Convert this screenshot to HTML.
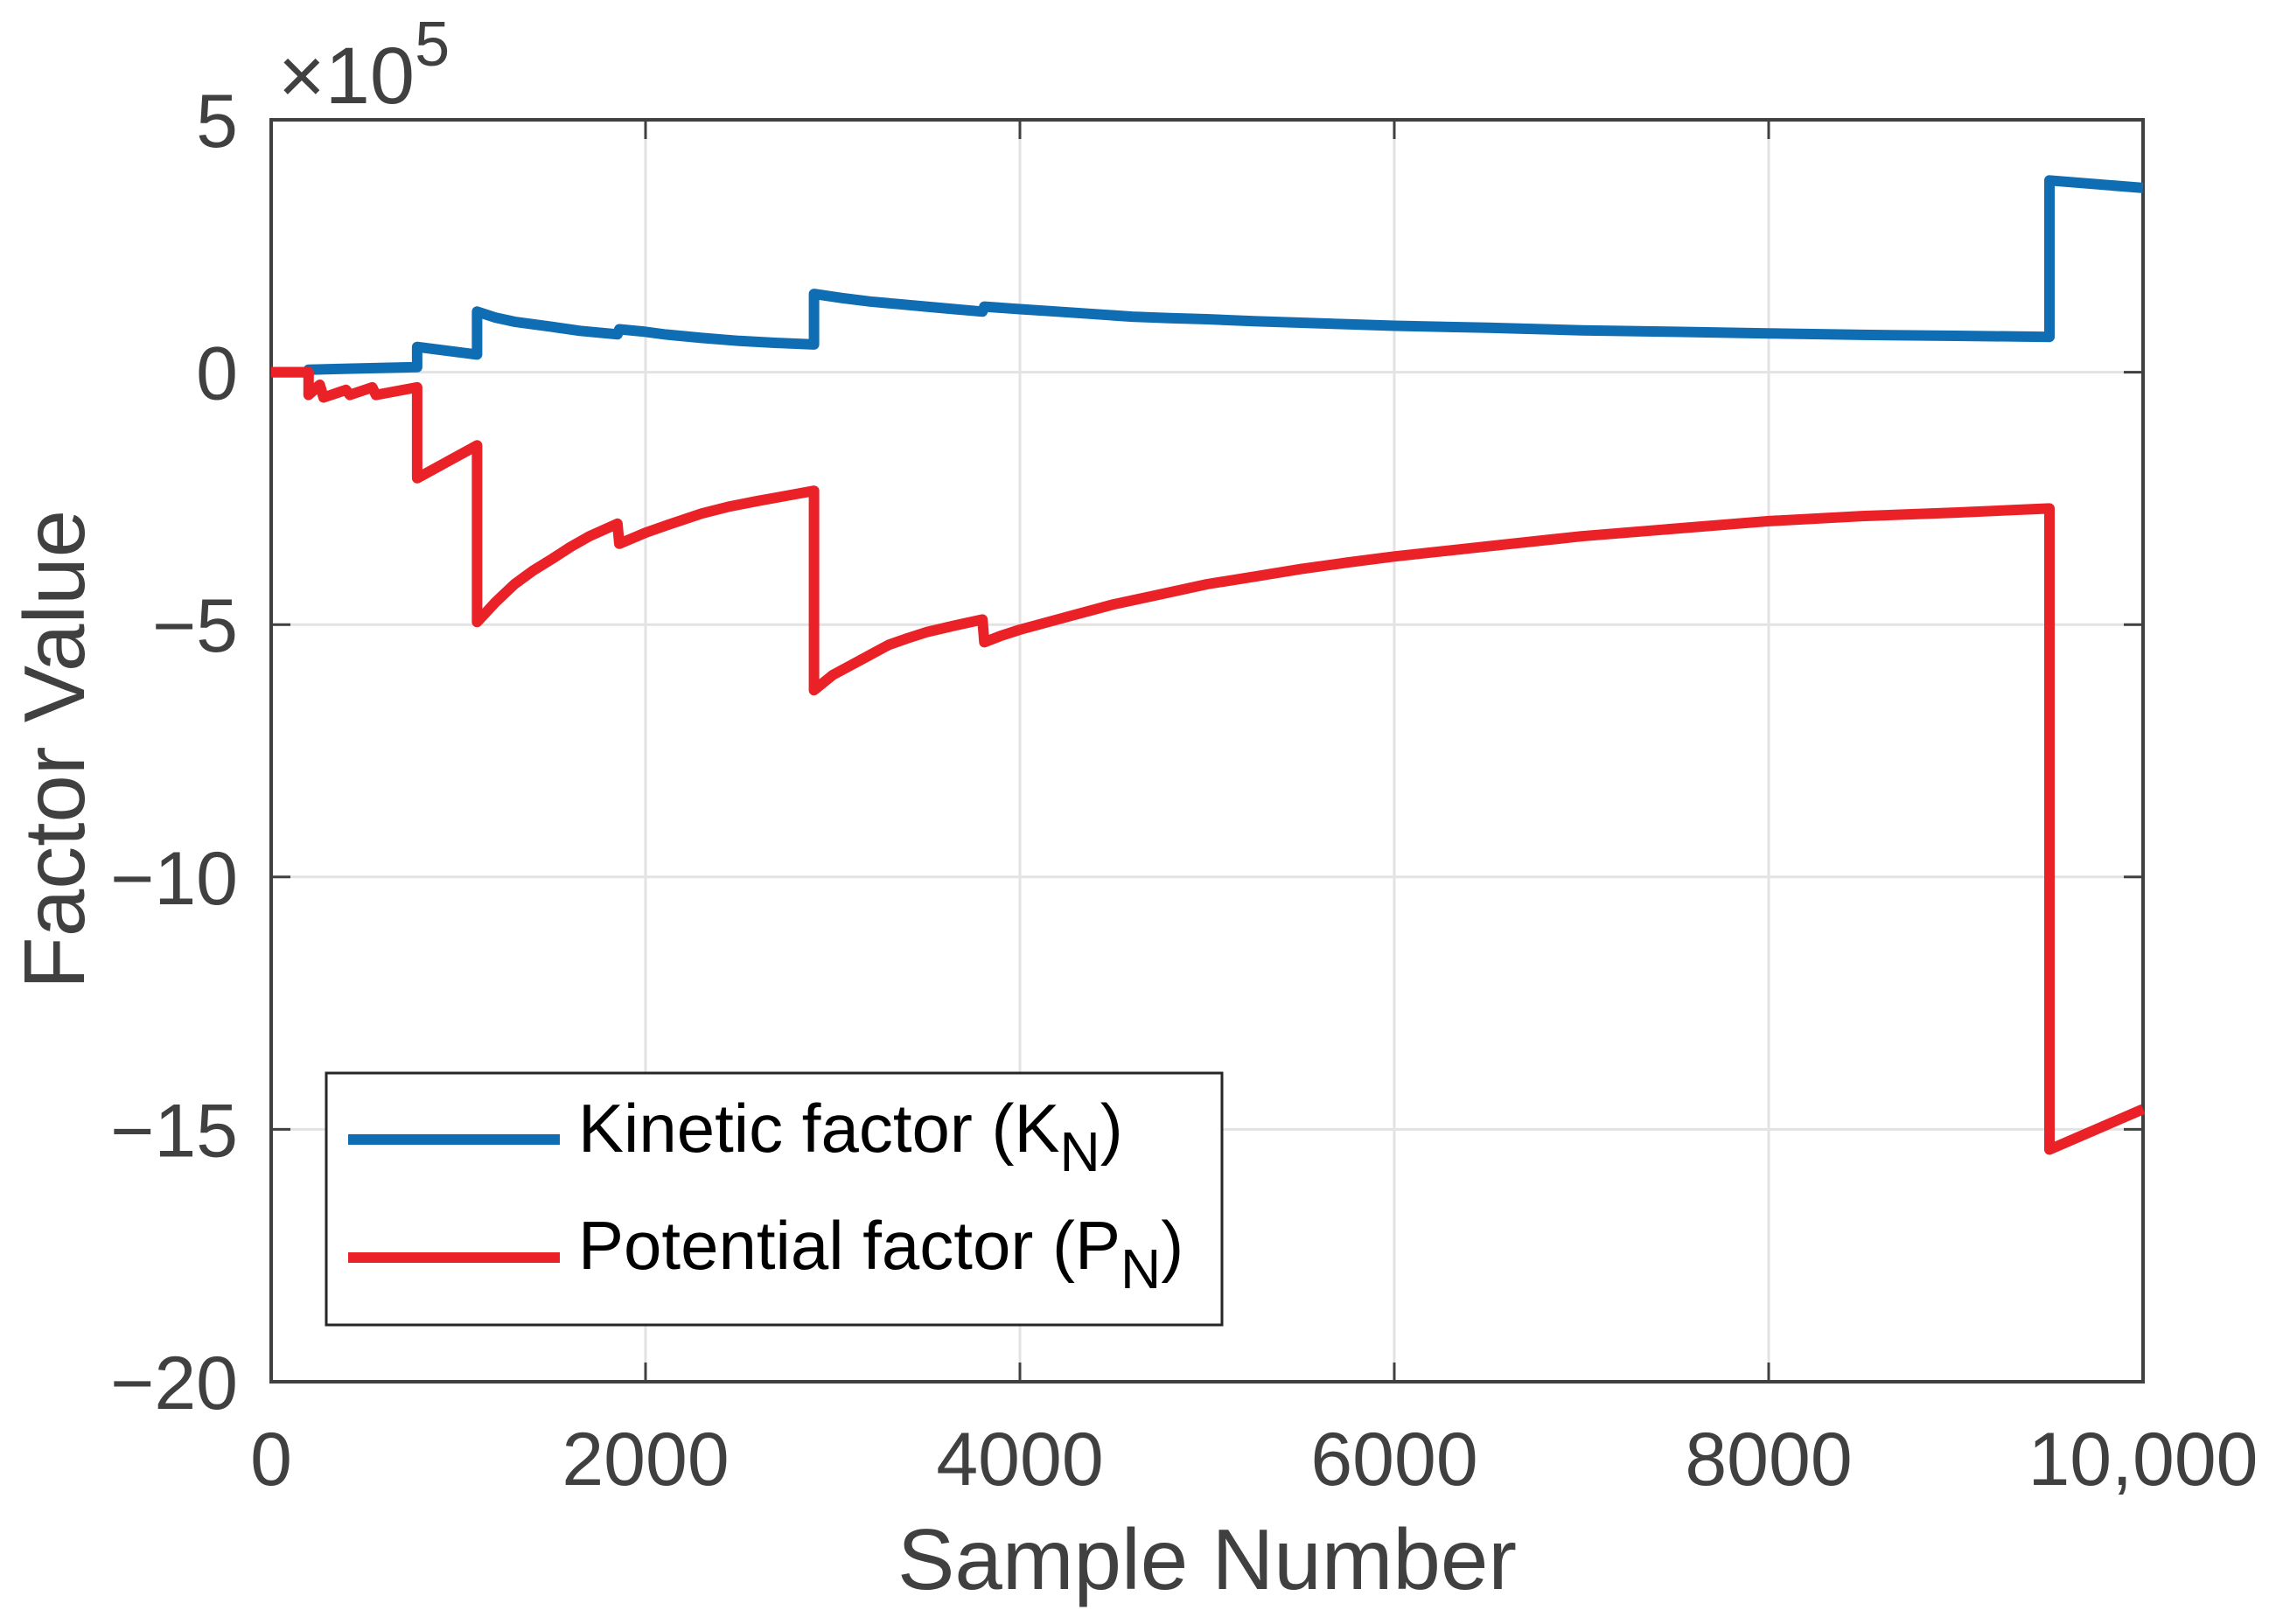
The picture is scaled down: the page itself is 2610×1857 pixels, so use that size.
<!DOCTYPE html>
<html><head><meta charset="utf-8">
<style>
html,body{margin:0;padding:0;background:#fff;}
svg{display:block;font-family:"Liberation Sans",Arial,sans-serif;}
</style></head>
<body>
<svg id="chart" width="2610" height="1857" viewBox="0 0 2610 1857" xmlns="http://www.w3.org/2000/svg">
<g id="grid"></g>
<g id="axes"></g>
<g id="series"></g>
<text x="318" y="118" font-size="92" fill="#404040">×10<tspan font-size="72" dy="-43">5</tspan></text>
<text x="1380" y="1817" font-size="98" fill="#404040" text-anchor="middle">Sample Number</text>
<text transform="translate(96,857) rotate(-90)" font-size="98" fill="#404040" text-anchor="middle">Factor Value</text>
<g>
<rect x="373" y="1227" width="1024" height="288" fill="#fff" stroke="#262626" stroke-width="3"/>
<line x1="398" y1="1303" x2="640" y2="1303" stroke="#0f6db3" stroke-width="12"/>
<text x="661" y="1317" font-size="78" fill="#000">Kinetic factor (K<tspan font-size="64" dy="22">N</tspan><tspan dy="-22">)</tspan></text>
<line x1="398" y1="1438" x2="640" y2="1438" stroke="#ea2127" stroke-width="12"/>
<text x="661" y="1451" font-size="78" fill="#000">Potential factor (P<tspan font-size="64" dy="22">N</tspan><tspan dy="-22">)</tspan></text>
</g>
</svg>
<script>
const xTicks = [0, 2000, 4000, 6000, 8000, 10000];
const xTickLabels = ["0", "2000", "4000", "6000", "8000", "10,000"];
const yTicks = [5, 0, -5, -10, -15, -20];
const yTickLabels = ["5", "0", "\u22125", "\u221210", "\u221215", "\u221220"];
const kineticX = [0,200,200,780,780,1100,1100,1200,1300,1400,1500,1650,1850,1860,2000,2100,2300,2500,2700,2900,2900,3050,3200,3350,3500,3650,3800,3810,4000,4200,4400,4600,4800,5000,5250,5500,5750,6000,6500,7000,7500,8000,8500,9000,9500,9500,10000];
const kineticY = [0,0,0.05,0.1,0.5,0.35,1.2,1.08,1.0,0.95,0.9,0.82,0.75,0.85,0.8,0.75,0.68,0.62,0.58,0.55,1.55,1.47,1.4,1.35,1.3,1.25,1.2,1.3,1.25,1.2,1.15,1.1,1.07,1.05,1.01,0.98,0.95,0.92,0.88,0.83,0.8,0.77,0.74,0.72,0.7,3.8,3.65];
const potentialX = [0,200,200,260,280,400,420,540,560,780,780,1100,1100,1150,1200,1300,1400,1500,1600,1700,1850,1860,2000,2100,2300,2450,2600,2750,2900,2900,2950,3000,3100,3200,3300,3400,3500,3650,3800,3810,3900,4000,4250,4500,4750,5000,5250,5500,5750,6000,6500,7000,7500,8000,8500,9000,9500,9500,10000];
const potentialY = [0,0,-0.45,-0.25,-0.5,-0.35,-0.45,-0.3,-0.45,-0.3,-2.1,-1.45,-4.95,-4.75,-4.55,-4.2,-3.93,-3.7,-3.46,-3.25,-3.0,-3.4,-3.18,-3.05,-2.8,-2.66,-2.55,-2.45,-2.35,-6.3,-6.15,-6.0,-5.8,-5.6,-5.4,-5.27,-5.15,-5.02,-4.9,-5.35,-5.22,-5.1,-4.85,-4.6,-4.4,-4.2,-4.05,-3.9,-3.77,-3.65,-3.45,-3.25,-3.1,-2.95,-2.85,-2.78,-2.7,-15.4,-14.6];

const L=310,R=2450,T=137,B=1580, XMIN=0,XMAX=10000,YMIN=-20,YMAX=5;
const NS="http://www.w3.org/2000/svg";
function sx(v){return L+(v-XMIN)/(XMAX-XMIN)*(R-L);}
function sy(v){return B-(v-YMIN)/(YMAX-YMIN)*(B-T);}
function mk(tag,attrs,parent){const e=document.createElementNS(NS,tag);for(const k in attrs)e.setAttribute(k,attrs[k]);parent.appendChild(e);return e;}
const grid=document.getElementById('grid'),axes=document.getElementById('axes'),series=document.getElementById('series');
mk('rect',{x:L,y:T,width:R-L,height:B-T,fill:'#fff'},grid);
xTicks.forEach((v,i)=>{
  const g=mk('line',{x1:sx(v),y1:T,x2:sx(v),y2:B,stroke:'#e3e3e3','stroke-width':3},grid);
  
  
  const t1=mk('line',{x1:sx(v),y1:B,x2:sx(v),y2:B-22,stroke:'#404040','stroke-width':3},axes);
  
  
  const t2=mk('line',{x1:sx(v),y1:T,x2:sx(v),y2:T+22,stroke:'#404040','stroke-width':3},axes);
  
  
  const tx=mk('text',{x:sx(v),y:1698,'font-size':86,fill:'#404040','text-anchor':'middle'},axes);
  tx.textContent=xTickLabels[i];
  
  
});
yTicks.forEach((v,i)=>{
  const g=mk('line',{x1:L,y1:sy(v),x2:R,y2:sy(v),stroke:'#e3e3e3','stroke-width':3},grid);
  
  
  const t1=mk('line',{x1:L,y1:sy(v),x2:L+22,y2:sy(v),stroke:'#404040','stroke-width':3},axes);
  
  
  const t2=mk('line',{x1:R,y1:sy(v),x2:R-22,y2:sy(v),stroke:'#404040','stroke-width':3},axes);
  
  
  const tx=mk('text',{x:272,y:sy(v)+31,'font-size':86,fill:'#404040','text-anchor':'end'},axes);
  tx.textContent=yTickLabels[i];
  
  
});
const box=mk('rect',{x:L,y:T,width:R-L,height:B-T,fill:'none',stroke:'#404040','stroke-width':4},axes);


function line(xs,ys,color,name){
  const d=xs.map((x,i)=>(i?'L':'M')+sx(x).toFixed(1)+' '+sy(ys[i]).toFixed(1)).join(' ');
  const p=mk('path',{d:d,fill:'none',stroke:color,'stroke-width':12,'stroke-linejoin':'round'},series);
  
  
}
line(kineticX,kineticY,'#0f6db3','kinetic-factor-line');
line(potentialX,potentialY,'#ea2127','potential-factor-line');
</script>
</body></html>
